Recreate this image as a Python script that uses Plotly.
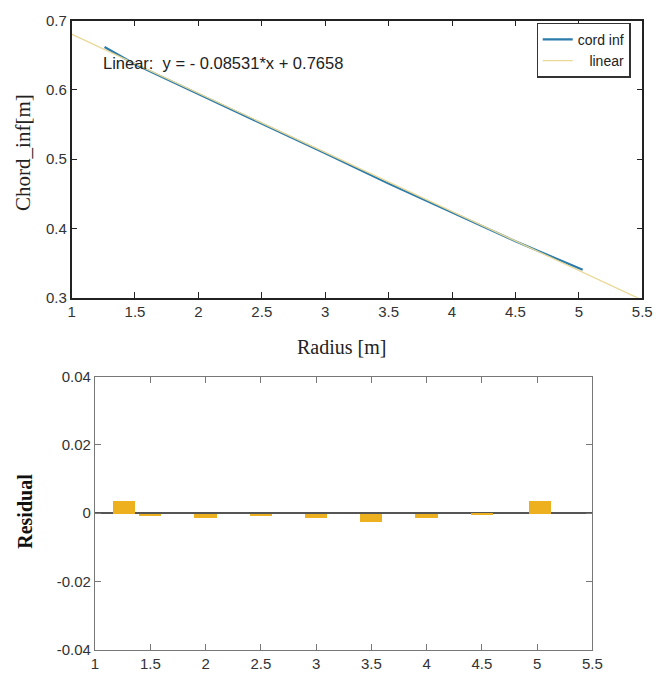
import plotly.graph_objects as go

# ---- data ----
radius = [1.26, 1.5, 2.0, 2.5, 3.0, 3.5, 4.0, 4.5, 5.03]
chord_inf = [0.662, 0.6372, 0.5940, 0.5517, 0.5085, 0.4647, 0.4232, 0.3814, 0.3403]
linear_x = [1.0, 5.5]
linear_y = [0.6805, 0.2966]
residual = [0.0037, -0.0006, -0.0012, -0.0008, -0.0014, -0.0025, -0.0014, -0.0005, 0.0036]

x_ticks = [1, 1.5, 2, 2.5, 3, 3.5, 4, 4.5, 5, 5.5]
top_y_ticks = [0.3, 0.4, 0.5, 0.6, 0.7]
bot_y_ticks = [-0.04, -0.02, 0, 0.02, 0.04]
bot_y_labels = ["-0.04", "-0.02", "0", "0.02", "0.04"]

W, H = 665, 686
SANS = "Liberation Sans, Arial, sans-serif"
SERIF = "Liberation Serif, Times New Roman, serif"
TICKFONT = dict(family=SANS, size=15, color="#333333")

fig = go.Figure()
fig.add_trace(go.Scatter(x=radius, y=chord_inf, mode="lines", name="cord inf",
                         line=dict(color="#2b7bab", width=2.2), xaxis="x", yaxis="y"))
fig.add_trace(go.Scatter(x=linear_x, y=linear_y, mode="lines", name="\u00a0\u00a0\u00a0linear",
                         line=dict(color="#e9d896", width=1.3), xaxis="x", yaxis="y"))
fig.add_trace(go.Bar(x=radius, y=residual, width=0.2, marker=dict(color="#EDB120", line=dict(width=0)),
                     showlegend=False, xaxis="x2", yaxis="y2"))

def px_x(p):
    return p / W

def px_y(p):
    return 1 - p / H

top_axis = dict(ticks="inside", ticklen=6, mirror="allticks", showline=True,
                linecolor="#222222", linewidth=1.5, tickcolor="#222222", showgrid=False,
                zeroline=False, tickfont=TICKFONT)
bot_axis = dict(ticks="inside", ticklen=6, mirror="allticks", showline=True,
                linecolor="#777777", linewidth=1.2, tickcolor="#777777", showgrid=False,
                tickfont=TICKFONT)

fig.update_layout(
    width=W, height=H,
    margin=dict(l=0, r=0, t=0, b=0),
    paper_bgcolor="white", plot_bgcolor="white",
    bargap=0,
    xaxis=dict(domain=[px_x(69), px_x(652)], range=[1, 5.5], tickvals=x_ticks,
               ticktext=[str(v) for v in x_ticks], anchor="y", **top_axis),
    yaxis=dict(domain=[px_y(296), px_y(12)], range=[0.3, 0.7], tickvals=top_y_ticks,
               ticktext=[str(v) for v in top_y_ticks], anchor="x", **top_axis),
    xaxis2=dict(domain=[px_x(93), px_x(601)], range=[1, 5.5], tickvals=x_ticks,
                ticktext=[str(v) for v in x_ticks], anchor="y2", zeroline=False, **bot_axis),
    yaxis2=dict(domain=[px_y(657), px_y(377)], range=[-0.04, 0.04], tickvals=bot_y_ticks,
                ticktext=bot_y_labels, anchor="x2", zeroline=True, zerolinecolor="#555555",
                zerolinewidth=1.5, **bot_axis),
    legend=dict(x=px_x(640), y=px_y(14), xanchor="right", yanchor="top",
                bgcolor="white", bordercolor="#333333", borderwidth=1.2,
                font=dict(family=SANS, size=14, color="#222222"),
                tracegroupgap=0, itemwidth=30),
    annotations=[
        dict(text="Linear:  y = - 0.08531*x + 0.7658", xref="paper", yref="paper",
             x=px_x(99), y=px_y(55), xanchor="left", yanchor="middle", showarrow=False,
             font=dict(family=SANS, size=16.5, color="#222222")),
        dict(text="Radius [m]", xref="paper", yref="paper", x=px_x(345), y=px_y(347),
             xanchor="center", yanchor="middle", showarrow=False,
             font=dict(family=SERIF, size=20, color="#222222")),
        dict(text="Chord_inf[m]", xref="paper", yref="paper", x=px_x(20), y=px_y(147),
             xanchor="center", yanchor="middle", showarrow=False, textangle=-90,
             font=dict(family=SERIF, size=21, color="#222222")),
        dict(text="<b>Residual</b>", xref="paper", yref="paper", x=px_x(22), y=px_y(515),
             xanchor="center", yanchor="middle", showarrow=False, textangle=-90,
             font=dict(family=SERIF, size=20, color="#111111")),
    ],
)

fig.write_html("out.html")
